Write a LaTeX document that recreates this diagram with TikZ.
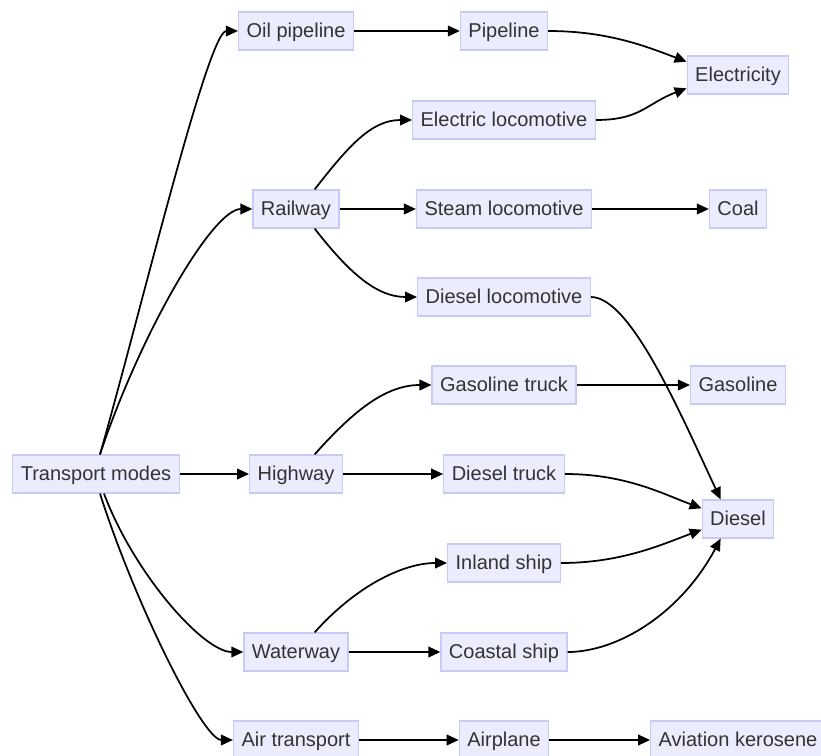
\documentclass[tikz,border=0pt]{standalone}
\usepackage{fontspec}
\setmainfont{Liberation Sans}
\usetikzlibrary{arrows.meta}
\definecolor{nodefill}{HTML}{ECECFF}
\definecolor{nodedraw}{HTML}{C9C9F5}
\definecolor{txt}{HTML}{333333}
\begin{document}
\begin{tikzpicture}[x=0.75pt,y=-0.75pt,
  box/.style={draw=nodedraw, fill=nodefill, line width=0.9pt, text=txt,
    font=\fontsize{15pt}{18pt}\selectfont, inner xsep=6pt, inner ysep=0pt,
    text height=12.4pt, text depth=2pt, minimum height=28.5pt},
  edge/.style={draw=black, line width=1.3pt, -{Triangle[length=9pt,width=8pt]}}]
\useasboundingbox (0,0) rectangle (821,756);
% column 1
\node[box] (TM) at (96,474) {Transport modes};
% column 2
\node[box] (OP) at (296,31) {Oil pipeline};
\node[box] (RW) at (296,209) {Railway};
\node[box] (HW) at (296,474) {Highway};
\node[box] (WW) at (296,652) {Waterway};
\node[box] (AT) at (296,740) {Air transport};
% column 3
\node[box] (PL) at (504,31) {Pipeline};
\node[box] (EL) at (504,120) {Electric locomotive};
\node[box] (SL) at (504,209) {Steam locomotive};
\node[box] (DL) at (504,297) {Diesel locomotive};
\node[box] (GT) at (504,385) {Gasoline truck};
\node[box] (DT) at (504,474) {Diesel truck};
\node[box] (IS) at (504,563) {Inland ship};
\node[box] (CS) at (504,652) {Coastal ship};
\node[box] (AP) at (504,740) {Airplane};
% column 4
\node[box] (EC) at (738,75) {Electricity};
\node[box] (CO) at (738,209) {Coal};
\node[box] (GA) at (738,385) {Gasoline};
\node[box] (DI) at (738,519) {Diesel};
\node[box] (AK) at (738,740) {Aviation kerosene};
% edges from Transport modes
\draw[edge] ([xshift=3pt]TM.north) .. controls +(40,-140) and +(-30,0) .. (OP.west);
\draw[edge] ([xshift=3pt]TM.north) .. controls +(40,-120) and +(-40,0) .. (RW.west);
\draw[edge] (TM.east) -- (HW.west);
\draw[edge] ([xshift=6pt]TM.south) .. controls +(30,80) and +(-40,0) .. (WW.west);
\draw[edge] ([xshift=3pt]TM.south) .. controls +(35,110) and +(-30,0) .. (AT.west);
% column 2 -> 3
\draw[edge] (OP.east) -- (PL.west);
\draw[edge] ([xshift=14pt]RW.north) .. controls +(35,-45) and +(-40,0) .. (EL.west);
\draw[edge] (RW.east) -- (SL.west);
\draw[edge] ([xshift=14pt]RW.south) .. controls +(35,45) and +(-40,0) .. (DL.west);
\draw[edge] ([xshift=14pt]HW.north) .. controls +(40,-45) and +(-45,0) .. (GT.west);
\draw[edge] (HW.east) -- (DT.west);
\draw[edge] ([xshift=14pt]WW.north) .. controls +(40,-45) and +(-45,0) .. (IS.west);
\draw[edge] (WW.east) -- (CS.west);
\draw[edge] (AT.east) -- (AP.west);
% column 3 -> 4
\draw[edge] (PL.east) .. controls +(60,0) and +(-40,-15) .. ([yshift=10pt]EC.west);
\draw[edge] (EL.east) .. controls +(45,0) and +(-40,15) .. ([yshift=-10pt]EC.west);
\draw[edge] (SL.east) -- (CO.west);
\draw[edge] (DL.east) .. controls +(40,0) and +(-40,-85) .. ([xshift=-13pt]DI.north);
\draw[edge] (GT.east) -- (GA.west);
\draw[edge] (DT.east) .. controls +(60,0) and +(-40,-15) .. ([yshift=8pt]DI.west);
\draw[edge] (IS.east) .. controls +(60,0) and +(-40,15) .. ([yshift=-8pt]DI.west);
\draw[edge] (CS.east) .. controls +(50,0) and +(-40,75) .. ([xshift=-13pt]DI.south);
\draw[edge] (AP.east) -- (AK.west);
\end{tikzpicture}
\end{document}
